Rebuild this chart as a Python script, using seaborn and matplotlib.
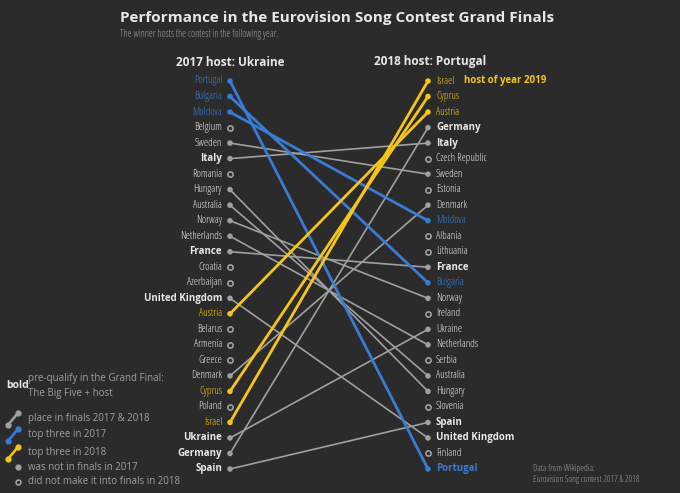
import matplotlib
matplotlib.use("Agg")
import matplotlib.pyplot as plt
from matplotlib.lines import Line2D
import seaborn as sns

rank_2017 = ["Portugal", "Bulgaria", "Moldova", "Belgium", "Sweden", "Italy", "Romania", "Hungary",
             "Australia", "Norway", "Netherlands", "France", "Croatia", "Azerbaijan", "United Kingdom",
             "Austria", "Belarus", "Armenia", "Greece", "Denmark", "Cyprus", "Poland", "Israel",
             "Ukraine", "Germany", "Spain"]
rank_2018 = ["Israel", "Cyprus", "Austria", "Germany", "Italy", "Czech Republic", "Sweden", "Estonia",
             "Denmark", "Moldova", "Albania", "Lithuania", "France", "Bulgaria", "Norway", "Ireland",
             "Ukraine", "Netherlands", "Serbia", "Australia", "Hungary", "Slovenia", "Spain",
             "United Kingdom", "Finland", "Portugal"]
top3_2017 = ["Portugal", "Bulgaria", "Moldova"]
top3_2018 = ["Israel", "Cyprus", "Austria"]
bold_2017 = ["France", "Germany", "Italy", "Spain", "United Kingdom", "Ukraine"]
bold_2018 = ["France", "Germany", "Italy", "Spain", "United Kingdom", "Portugal"]

BG = "#2b2b2b"
BLUE = "#3a7bd5"
YEL = "#f5c518"
GREY = "#a0a0a0"
TXT = "#e8e8e8"

sns.set_theme(style="dark")
plt.rcParams["font.family"] = ["Open Sans", "DejaVu Sans"]

fig = plt.figure(figsize=(6.8, 4.93), dpi=100, facecolor=BG)
ax = fig.add_axes([230 / 680, 24 / 493, 198 / 680, 388 / 493])
ax.set_facecolor(BG)
ax.set_xlim(0, 1)
ax.set_ylim(len(rank_2017) - 1, 0)
ax.axis("off")

def colour(c):
    if c in top3_2017:
        return BLUE
    if c in top3_2018:
        return YEL
    return GREY

# lines: grey first, then coloured on top
both = [c for c in rank_2017 if c in rank_2018]
both.sort(key=lambda c: colour(c) != GREY)
for c in both:
    col = colour(c)
    ax.plot([0, 1], [rank_2017.index(c), rank_2018.index(c)], color=col,
            lw=2 if col != GREY else 1.2, zorder=2 if col != GREY else 1, clip_on=False)

for x, ranks, other, bolds, ha, dx in [(0, rank_2017, rank_2018, bold_2017, "right", -0.04),
                                       (1, rank_2018, rank_2017, bold_2018, "left", 0.04)]:
    for i, c in enumerate(ranks):
        col = colour(c)
        if c in other:
            ax.scatter([x], [i], s=16, color=col, zorder=3, clip_on=False, edgecolor="none")
        else:
            ax.scatter([x], [i], s=14, facecolor=BG, edgecolor=GREY, lw=1.2, zorder=3, clip_on=False)
        tcol = col if col != GREY else TXT
        b = c in bolds
        ax.text(x + dx, i, c, ha=ha, va="center", fontsize=7 if b else 7.6, color=tcol,
                fontweight="bold" if b else "normal", fontstretch="condensed")

ax.text(1 + 0.18, 0, "host of year 2019", ha="left", va="center", fontsize=7,
        color=YEL, fontweight="bold")

fig.text(120 / 680, 1 - 18 / 493, "Performance in the Eurovision Song Contest Grand Finals",
         fontsize=11, fontweight="bold", color=TXT, va="center")
fig.text(120 / 680, 1 - 35 / 493, "The winner hosts the contest in the following year.",
         fontsize=7, color=GREY, va="center", fontstretch="condensed")
fig.text(230 / 680, 1 - 62 / 493, "2017 host: Ukraine", fontsize=8.5, fontweight="bold",
         color=TXT, ha="center", va="center")
fig.text(430 / 680, 1 - 62 / 493, "2018 host: Portugal", fontsize=8.5, fontweight="bold",
         color=TXT, ha="center", va="center")

# legend
def fy(y):
    return 1 - y / 493

fig.text(6 / 680, fy(386), "bold", fontsize=7.5, fontweight="bold", color=TXT, va="center")
fig.text(28 / 680, fy(386), "pre-qualify in the Grand Final:\nThe Big Five + host", fontsize=7,
         color=GREY, va="center", linespacing=1.4)
for y0, col, lab in [(418, GREY, "place in finals 2017 & 2018"),
                     (434, BLUE, "top three in 2017"),
                     (452, YEL, "top three in 2018")]:
    fig.add_artist(Line2D([8 / 680, 18 / 680], [fy(y0 + 7), fy(y0 - 5)], color=col, lw=1.8))
    fig.add_artist(Line2D([8 / 680, 18 / 680], [fy(y0 + 7), fy(y0 - 5)], color=col, lw=0,
                          marker="o", markersize=3.5))
    fig.text(28 / 680, fy(y0), lab, fontsize=7, color=GREY, va="center")
fig.add_artist(Line2D([18 / 680], [fy(467)], color=GREY, marker="o", markersize=3.5, lw=0))
fig.text(28 / 680, fy(467), "was not in finals in 2017", fontsize=7, color=GREY, va="center")
fig.add_artist(Line2D([18 / 680], [fy(482)], color=GREY, marker="o", markersize=3.5, lw=0,
                      markerfacecolor=BG, markeredgewidth=1.2))
fig.text(28 / 680, fy(482), "did not make it into finals in 2018", fontsize=7, color=GREY, va="center")

fig.text(533 / 680, fy(474), "Data from Wikipedia:\nEurovision Song contest 2017 & 2018",
         fontsize=6.5, color=GREY, va="center", linespacing=1.4, fontstretch="condensed")

fig.savefig("out.png", dpi=100, facecolor=BG)
